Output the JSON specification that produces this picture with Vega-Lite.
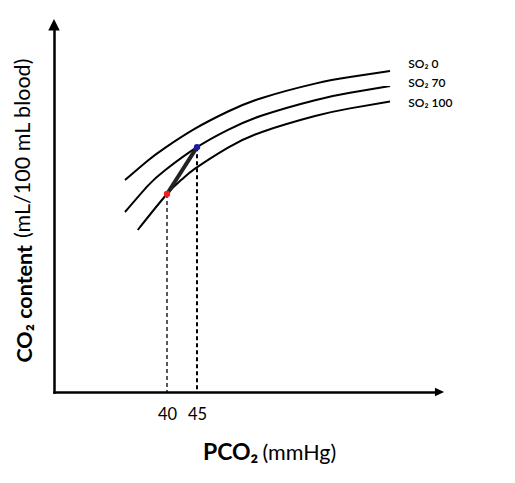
{
  "$schema": "https://vega.github.io/schema/vega-lite/v6.json",
  "width": 383,
  "height": 363,
  "autosize": "none",
  "padding": {"left": 54, "top": 29, "right": 78, "bottom": 91},
  "background": "white",
  "config": {
    "view": {"stroke": null},
    "font": "Lato",
    "axis": {"domainColor": "black", "domainWidth": 2.5, "domainCap": "square", "grid": false, "ticks": false, "tickSize": 0, "title": null}
  },
  "datasets": {
    "curves": [
      {"so2": "0", "pco2": 33.0, "co2": 35.33},
      {"so2": "0", "pco2": 36.83, "co2": 38.59},
      {"so2": "0", "pco2": 39.67, "co2": 40.69},
      {"so2": "0", "pco2": 44.67, "co2": 43.89},
      {"so2": "0", "pco2": 50.17, "co2": 46.75},
      {"so2": "0", "pco2": 55.83, "co2": 49.01},
      {"so2": "0", "pco2": 64.67, "co2": 51.4},
      {"so2": "0", "pco2": 70.5, "co2": 52.5},
      {"so2": "0", "pco2": 77.17, "co2": 53.5},
      {"so2": "70", "pco2": 33.0, "co2": 30.0},
      {"so2": "70", "pco2": 36.83, "co2": 34.4},
      {"so2": "70", "pco2": 39.67, "co2": 36.96},
      {"so2": "70", "pco2": 45.0, "co2": 40.8},
      {"so2": "70", "pco2": 50.17, "co2": 43.7},
      {"so2": "70", "pco2": 55.83, "co2": 46.08},
      {"so2": "70", "pco2": 64.67, "co2": 48.64},
      {"so2": "70", "pco2": 70.5, "co2": 49.86},
      {"so2": "70", "pco2": 77.17, "co2": 51.0},
      {"so2": "100", "pco2": 35.12, "co2": 27.0},
      {"so2": "100", "pco2": 40.0, "co2": 33.0},
      {"so2": "100", "pco2": 42.45, "co2": 35.4},
      {"so2": "100", "pco2": 44.67, "co2": 37.22},
      {"so2": "100", "pco2": 50.17, "co2": 40.74},
      {"so2": "100", "pco2": 55.83, "co2": 43.34},
      {"so2": "100", "pco2": 64.67, "co2": 45.99},
      {"so2": "100", "pco2": 70.5, "co2": 47.27},
      {"so2": "100", "pco2": 77.17, "co2": 48.4}
    ],
    "points": [
      {"state": "arterial", "pco2": 40, "co2": 33.0},
      {"state": "venous", "pco2": 45, "co2": 40.8}
    ],
    "labels": [
      {"text": "SO₂ 0", "pco2": 80.22, "co2": 54.67},
      {"text": "SO₂ 70", "pco2": 80.22, "co2": 51.45},
      {"text": "SO₂ 100", "pco2": 80.22, "co2": 48.22}
    ],
    "arrows": [
      {"axis": "x", "pco2": 85.43, "co2": 0},
      {"axis": "y", "pco2": 21.1667, "co2": 61.2}
    ],
    "titles": [
      {"part": "xbold", "text": "PCO₂", "pco2": 55.22, "co2": -11.25},
      {"part": "xreg", "text": "(mmHg)", "pco2": 55.92, "co2": -11.25},
      {"part": "ybold", "text": "CO₂ content", "pco2": 17.45, "co2": 24.5},
      {"part": "yreg", "text": "(mL/100 mL blood)", "pco2": 17.17, "co2": 25.67}
    ]
  },
  "layer": [
    {
      "data": {"name": "curves"},
      "mark": {"type": "line", "interpolate": "natural", "color": "black", "strokeWidth": 2},
      "encoding": {
        "x": {"field": "pco2", "type": "quantitative", "scale": {"domain": [21.1667, 85], "nice": false, "zero": false},
              "axis": {"values": [40, 45], "labelFontSize": 16.5, "labelColor": "black", "labelPadding": 14, "labelFont": "Lato", "labelFlush": false}},
        "y": {"field": "co2", "type": "quantitative", "scale": {"domain": [0, 60.5], "nice": false},
              "axis": {"labels": false}},
        "detail": {"field": "so2"}
      }
    },
    {
      "data": {"name": "points"},
      "mark": {"type": "rule", "color": "black", "strokeDash": [4, 3]},
      "encoding": {
        "x": {"field": "pco2", "type": "quantitative"},
        "y": {"field": "co2", "type": "quantitative"},
        "y2": {"datum": 0},
        "strokeWidth": {"field": "state", "type": "nominal", "scale": {"domain": ["arterial", "venous"], "range": [1.3, 2]}, "legend": null}
      }
    },
    {
      "data": {"name": "points"},
      "mark": {"type": "line", "color": "#222222", "strokeWidth": 4},
      "encoding": {
        "x": {"field": "pco2", "type": "quantitative"},
        "y": {"field": "co2", "type": "quantitative"}
      }
    },
    {
      "data": {"name": "points"},
      "mark": {"type": "point", "filled": true, "size": 40, "opacity": 1, "shape": "circle"},
      "encoding": {
        "x": {"field": "pco2", "type": "quantitative"},
        "y": {"field": "co2", "type": "quantitative"},
        "color": {"field": "state", "type": "nominal", "scale": {"domain": ["arterial", "venous"], "range": ["#f01e1e", "#1a1aa6"]}, "legend": null}
      }
    },
    {
      "data": {"name": "arrows"},
      "transform": [{"filter": "datum.axis === 'x'"}],
      "mark": {"type": "point", "filled": true, "opacity": 1, "color": "black", "shape": "M-1,-0.9L1,0L-1,0.9Z", "size": 86},
      "encoding": {
        "x": {"field": "pco2", "type": "quantitative"},
        "y": {"field": "co2", "type": "quantitative"}
      }
    },
    {
      "data": {"name": "arrows"},
      "transform": [{"filter": "datum.axis === 'y'"}],
      "mark": {"type": "point", "filled": true, "opacity": 1, "color": "black", "shape": "M-1,1L0,-1L1,1Z", "size": 132},
      "encoding": {
        "x": {"field": "pco2", "type": "quantitative"},
        "y": {"field": "co2", "type": "quantitative"}
      }
    },
    {
      "data": {"name": "labels"},
      "mark": {"type": "text", "align": "left", "baseline": "middle", "font": "Lato", "fontSize": 12, "fontWeight": 600, "color": "black"},
      "encoding": {
        "x": {"field": "pco2", "type": "quantitative"},
        "y": {"field": "co2", "type": "quantitative"},
        "text": {"field": "text"}
      }
    },
    {
      "data": {"name": "titles"},
      "transform": [{"filter": "datum.part === 'xbold'"}],
      "mark": {"type": "text", "align": "right", "baseline": "alphabetic", "font": "Lato", "fontSize": 23, "fontWeight": "bold", "color": "black"},
      "encoding": {
        "x": {"field": "pco2", "type": "quantitative"},
        "y": {"field": "co2", "type": "quantitative"},
        "text": {"field": "text"}
      }
    },
    {
      "data": {"name": "titles"},
      "transform": [{"filter": "datum.part === 'xreg'"}],
      "mark": {"type": "text", "align": "left", "baseline": "alphabetic", "font": "Lato", "fontSize": 21.5, "color": "black"},
      "encoding": {
        "x": {"field": "pco2", "type": "quantitative"},
        "y": {"field": "co2", "type": "quantitative"},
        "text": {"field": "text"}
      }
    },
    {
      "data": {"name": "titles"},
      "transform": [{"filter": "datum.part === 'ybold'"}],
      "mark": {"type": "text", "align": "right", "baseline": "alphabetic", "angle": 270, "font": "Lato", "fontSize": 21.5, "fontWeight": "bold", "color": "black"},
      "encoding": {
        "x": {"field": "pco2", "type": "quantitative"},
        "y": {"field": "co2", "type": "quantitative"},
        "text": {"field": "text"}
      }
    },
    {
      "data": {"name": "titles"},
      "transform": [{"filter": "datum.part === 'yreg'"}],
      "mark": {"type": "text", "align": "left", "baseline": "alphabetic", "angle": 270, "font": "Lato", "fontSize": 21.5, "color": "black"},
      "encoding": {
        "x": {"field": "pco2", "type": "quantitative"},
        "y": {"field": "co2", "type": "quantitative"},
        "text": {"field": "text"}
      }
    }
  ]
}
